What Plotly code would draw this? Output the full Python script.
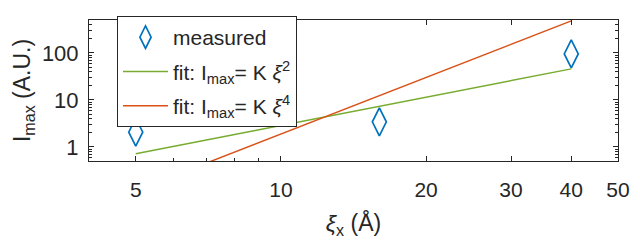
import plotly.graph_objects as go
import numpy as np

# data
xi = [5, 16, 40]
measured = [2.05, 3.4, 95]
K2 = 0.0285
K4 = 1.875e-4
fit2 = [K2 * x**2 for x in xi]
fit4 = [K4 * x**4 for x in xi]

xticks = [5, 10, 20, 30, 40, 50]
yticks = [1, 10, 100]
xminor = [4, 6, 7, 8, 9]
yminor = [m * 10.0**e for e in range(-1, 3) for m in range(2, 10) if 0.5 <= m * 10.0**e <= 500]

blue = "#0072BD"
green = "#77AC30"
orange = "#D95319"
axc = "#262626"
font = "Liberation Sans, Arial, sans-serif"

fig = go.Figure()
fig.add_trace(go.Scatter(x=xi, y=measured, mode="markers", name="measured", legendgroup="a",
                         marker=dict(symbol="diamond-tall-open", size=20, color=blue,
                                     line=dict(width=1.7, color=blue))))
fig.add_trace(go.Scatter(x=xi, y=fit2, mode="lines", legendgroup="b",
                         name="fit: I<sub>max</sub>= K <i>ξ</i><sup>2</sup>",
                         line=dict(color=green, width=1.5)))
fig.add_trace(go.Scatter(x=xi, y=fit4, mode="lines", legendgroup="c",
                         name="fit: I<sub>max</sub>= K <i>ξ</i><sup>4</sup>",
                         line=dict(color=orange, width=1.5)))

axis_common = dict(type="log", showgrid=False, zeroline=False, showline=True,
                   linecolor=axc, linewidth=1, mirror="ticks", ticks="inside",
                   ticklen=5, tickcolor=axc, automargin=False,
                   ticklabeloverflow="allow")

fig.update_xaxes(**axis_common, range=[np.log10(4), np.log10(50)],
                 tickmode="array", tickvals=xticks, ticktext=[str(v) for v in xticks],
                 ticklabelstandoff=10,
                 tickfont=dict(family=font, size=21, color=axc),
                 minor=dict(tickmode="array", tickvals=xminor, ticks="inside", ticklen=3,
                            tickcolor=axc, showgrid=False),
                 title=dict(text="<i>ξ</i><sub>x</sub> (Å)", font=dict(family=font, size=23, color=axc),
                            standoff=14))
fig.update_yaxes(**axis_common, range=[np.log10(0.5), np.log10(500)],
                 tickmode="array", tickvals=yticks, ticktext=[str(v) for v in yticks],
                 ticklabelstandoff=5,
                 tickfont=dict(family=font, size=22, color=axc),
                 minor=dict(tickmode="array", tickvals=yminor, ticks="inside", ticklen=3,
                            tickcolor=axc, showgrid=False),
                 title=dict(text="I<sub>max</sub> (A.U.)", font=dict(family=font, size=23, color=axc),
                            standoff=4))

# the page body adds an 8 px offset, so the figure is 8 px smaller and margins shifted
fig.update_layout(
    width=632, height=234,
    margin=dict(l=81, r=22, t=12, b=81, autoexpand=False),
    paper_bgcolor="white", plot_bgcolor="white",
    showlegend=True,
    legend=dict(x=(117 - 89) / 529, y=(161 - 16) / 141, xanchor="left", yanchor="top",
                bgcolor="white", bordercolor=axc, borderwidth=1,
                font=dict(family=font, size=21, color=axc),
                itemwidth=45, tracegroupgap=4, traceorder="grouped"),
)

fig.write_html("out.html")
